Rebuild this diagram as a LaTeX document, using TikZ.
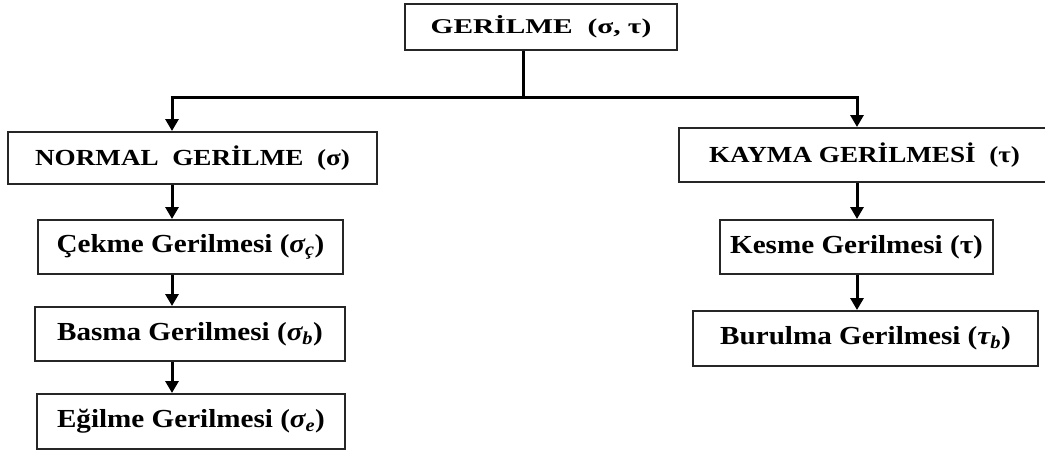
\documentclass[tikz,border=0pt]{standalone}
\usepackage{fontspec}
\setmainfont{Liberation Serif}
\usetikzlibrary{arrows.meta}
\tikzset{
  box/.style={draw=black!85, line width=2pt, inner sep=0pt, font=\bfseries},
  capsfont/.style={font=\bfseries\fontsize{23}{25}\selectfont},
  lowfont/.style={font=\bfseries\fontsize{26}{28}\selectfont},
  conn/.style={line width=3pt},
  arr/.style={line width=3pt, -{Triangle[length=12pt,width=13pt]}}
}
\newcommand{\sx}[2]{\scalebox{#1}[1]{#2}}
\newcommand{\gsub}[2]{{\itshape #1}\textsubscript{\itshape #2}}
\begin{document}
\begin{tikzpicture}[x=1pt,y=-1pt]
\useasboundingbox (0,0) rectangle (1045,451);
\clip (0,0) rectangle (1045,451);
\node[box, minimum width=272pt, minimum height=46pt, font=\bfseries\fontsize{21}{23}\selectfont] (top) at (541,27) {\sx{1.4}{GERİLME\ \ (σ, τ)}};
\node[box, capsfont, minimum width=369pt, minimum height=52pt] (normal) at (192.5,158) {\sx{1.18}{NORMAL\ \ GERİLME\ \ (σ)}};
\node[box, lowfont, minimum width=305pt, minimum height=54pt] (cekme) at (190.5,247) {\sx{1.12}{Çekme Gerilmesi (\gsub{σ}{ç})}};
\node[box, lowfont, minimum width=310pt, minimum height=54pt] (basma) at (190,334) {\sx{1.12}{Basma Gerilmesi (\gsub{σ}{b})}};
\node[box, lowfont, minimum width=308pt, minimum height=55pt] (egilme) at (191,421.5) {\sx{1.12}{Eğilme Gerilmesi (\gsub{σ}{e})}};
\node[box, capsfont, minimum width=371pt, minimum height=54pt] (kayma) at (864.5,155) {\sx{1.18}{KAYMA GERİLMESİ\ \ (τ)}};
\node[box, lowfont, minimum width=273pt, minimum height=54pt] (kesme) at (856.5,247) {\sx{1.12}{Kesme Gerilmesi (τ)}};
\node[box, lowfont, minimum width=345pt, minimum height=55pt] (burulma) at (865.5,338.5) {\sx{1.12}{Burulma Gerilmesi (\gsub{τ}{b})}};
\coordinate (j) at (523,97);
\coordinate (hl) at (172,97);
\coordinate (hr) at (857,97);
\draw[conn] (top.south -| j) -- (j);
\draw[conn] ([xshift=-1.5pt]hl) -- ([xshift=1.5pt]hr);
\draw[arr] (hl) -- (hl |- normal.north);
\draw[arr] (hr) -- (hr |- kayma.north);
\draw[arr] (normal.south -| hl) -- (cekme.north -| hl);
\draw[arr] (cekme.south -| hl) -- (basma.north -| hl);
\draw[arr] (basma.south -| hl) -- (egilme.north -| hl);
\draw[arr] (kayma.south -| hr) -- (kesme.north -| hr);
\draw[arr] (kesme.south -| hr) -- (burulma.north -| hr);
\end{tikzpicture}
\end{document}
